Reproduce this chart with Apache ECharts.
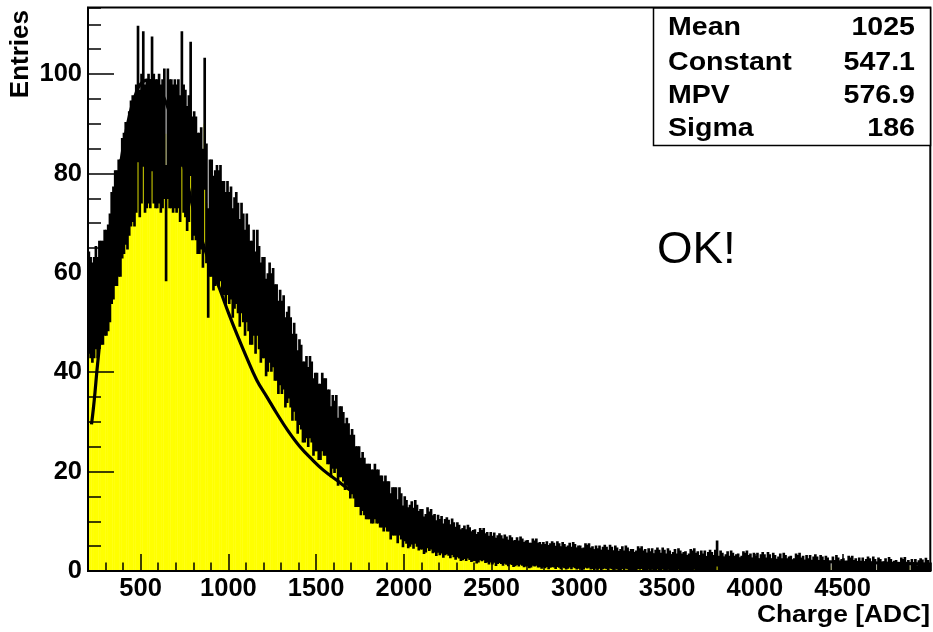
<!DOCTYPE html>
<html><head><meta charset="utf-8">
<script src="https://cdn.jsdelivr.net/npm/echarts@6/dist/echarts.min.js"></script>
<style>html,body{margin:0;padding:0;background:#fff}#c{width:933px;height:632px}</style>
</head><body><div id="c"></div>
<script>
// ---- data (bin contents, 10 ADC bins from 200) ----
const binLow = 200, binWidth = 10;
const counts = [
 54,53,52,53,55, 53,56,56,56,58, 58,59,61,65,66, 69,69,71,71,75,   // 200-399
 76,78,77,80,82, 83,82,85,96,84, 87,95,85,86,87, 86,94,87,86,86,   // 400-599
 87,85,86,88,70, 88,86,86,85,86, 85,86,83,95,85, 84,81,83,93,79,   // 600-799
 80,79,76,76,77, 73,90,74,62,71, 71,68,69,70,69, 70,67,67,65,67,   // 800-999
 65,66,62,64,65, 63,60,63,61,58, 61,59,56,56,58, 54,58,55,52,53,   // 1000-1199
 53,49,50,52,50, 51,48,48,45,47, 45,46,42,43,44, 42,39,41,39,36,   // 1200-1399
 38,37,34,34,35, 33,35,34,31,32, 32,30,30,32,31, 31,29,29,26,28,   // 1400-1599
 27,28,24,26,26, 25,23,24,23,21, 22,21,19,19,19, 17,18,17,16,16,   // 1600-1799
 16,15,15,16,15, 15,14,14,13,14, 13,13,11,12,12, 12,10,12,11,9,    // 1800-1999
 10.5,9.9,8.7,9.1,9.7, 8.6,9.9,9.1,8.1,8.4, 8.4,7.2,7.6,8.7,8.0, 8.4,7.4,7.6,6.6,7.5,   // 2000-2199
 6.8,7.3,6.1,6.8,7.1, 6.7,6.0,6.9,6.3,5.6, 6.3,5.9,5.2,5.4,5.8, 5.2,5.9,5.5,4.9,5.1,   // 2200-2399
 5.2,4.5,4.8,5.4,5.1, 5.4,4.6,4.8,4.2,4.8, 4.2,4.7,3.7,4.3,4.6, 4.3,3.8,4.4,4.1,3.6,   // 2400-2599
 4.3,4.0,3.4,3.6,4.0, 3.5,4.1,3.8,3.3,3.5, 3.6,3.0,3.2,3.8,3.5, 3.8,3.2,3.3,2.8,3.3,   // 2600-2799
 3.0,3.4,2.6,3.1,3.4, 3.2,2.7,3.4,3.1,2.6, 3.3,3.0,2.5,2.8,3.2, 2.6,3.3,3.0,2.5,2.8,   // 2800-2999
 2.8,2.3,2.5,3.1,2.9, 3.1,2.5,2.7,2.2,2.8, 2.4,2.8,2.0,2.6,2.9, 2.6,2.2,2.9,2.6,2.1,   // 3000-3199
 2.8,2.5,2.0,2.3,2.7, 2.1,2.8,2.5,2.0,2.3, 2.3,1.8,2.1,2.7,2.4, 2.7,2.1,2.3,1.8,2.4,   // 3200-3399
 2.0,2.4,1.6,2.2,2.5, 2.2,1.8,2.5,2.2,1.7, 2.4,2.1,1.6,1.9,2.3, 1.7,2.4,2.1,1.7,1.9,   // 3400-3599
 2.0,1.5,1.7,2.3,2.1, 2.4,1.8,2.0,1.5,2.1, 1.7,2.1,1.3,1.9,2.2, 1.9,1.5,2.2,3.5,1.4,   // 3600-3799
 2.1,1.8,1.3,1.6,2.0, 1.4,2.1,1.8,1.4,1.6, 1.7,1.2,1.4,2.0,1.8, 2.1,1.5,1.7,1.2,1.8,   // 3800-3999
 1.4,1.8,1.0,1.6,1.9, 1.6,1.2,1.9,1.6,1.1, 1.8,1.5,1.0,1.3,1.7, 1.1,1.8,1.5,1.1,1.3,   // 4000-4199
 1.4,0.9,1.1,1.7,1.5, 1.8,1.2,1.4,0.9,1.5, 1.1,1.5,0.7,1.3,1.6, 1.3,0.9,1.5,1.3,0.9,   // 4200-4399
 1.4,1.2,0.8,0,1.3, 0.9,1.5,1.2,0.8,1.0, 1.1,0.6,0.8,1.4,1.2, 1.4,0.9,1.1,0.6,1.2,     // 4400-4599
 0.8,1.2,0.5,1.0,1.3, 1.1,0.7,1.3,1.0,0, 1.2,1.0,0.55,0.75,1.1, 0.6,1.25,1.0,0.6,0.8,  // 4600-4799
 0.9,0.45,0.65,1.2,1.0, 1.25,0.7,0.9,0,1.0, 0.65,1.0,0.35,0.85,1.1, 0.95,0.55,1.15,0.9,0.5 // 4800-4999
];
const errScale = 1.4;   // error bars read as about 1.4*sqrt(content)
const fitX = [220,230,240,250,260,270,280,300,325,350,375,400,425,450,475,500,535,570,600,650,700,750,800,850,900,950,1000,1050,1100,1162,1220,1276,1340,1408,1475,1541,1620,1693,1850,2000,2250,2500,2750,3000,3500,4000,4500,5000];
const fitY = [29.5,32.5,36,40,43.5,47,50.5,56.9,65,72.6,79.3,85.1,89.9,93.6,96.3,98,98.8,98.5,97.5,93.8,88,80.8,72.8,66.5,61.3,56.8,52,47.5,43.3,38.4,35,31.7,28.2,25,22.5,20.3,18.2,16.3,13.3,11,8.3,6.5,5.2,4.3,3.1,2.3,1.8,1.4];
const xTickLabels = [500,1000,1500,2000,2500,3000,3500,4000,4500];
const yTickLabels = [0,20,40,60,80,100];
const statNames = ['Mean','Constant','MPV','Sigma'];
const statValues = ['1025','547.1','576.9','186'];
const xTitle = 'Charge [ADC]', yTitle = 'Entries', note = 'OK!';

// ---- build ----
const FONT = '"Liberation Sans", Arial, Helvetica, sans-serif';
const X0 = 200, X1 = 5000, Y0 = 0, Y1 = 113.4;
const bins = counts.map((c, i) => [binLow + i * binWidth, binLow + (i + 1) * binWidth, c]);
const fitData = fitX.map((x, i) => [x, fitY[i]]);

const chart = echarts.init(document.getElementById('c'), null, {renderer: 'canvas'});

function rectFor(api, x0, x1, ylo, yhi, pad) {
  const a = api.coord([x0, ylo]), b = api.coord([x1, yhi]);
  return {x: a[0] - pad, y: b[1], width: b[0] - a[0] + 2 * pad, height: a[1] - b[1]};
}

const statText = [];
statNames.forEach((n, i) => {
  const yc = [27.5, 62.5, 96, 128.5][i];
  statText.push({type: 'text', x: 668, y: yc, scaleX: 1.12, z: 102,
    style: {text: n, font: 'bold 25.5px ' + FONT, fill: '#000', textAlign: 'left', textVerticalAlign: 'middle'}});
  statText.push({type: 'text', x: 915, y: yc, scaleX: 1.12, z: 102,
    style: {text: statValues[i], font: 'bold 25.5px ' + FONT, fill: '#000', textAlign: 'right', textVerticalAlign: 'middle'}});
});

const option = {
  animation: false,
  backgroundColor: '#fff',
  grid: {left: 88, right: 2.7, top: 7.5, bottom: 61, show: true, borderColor: '#000', borderWidth: 2, backgroundColor: 'transparent', z: 5},
  xAxis: [
    {type: 'value', min: X0, max: X1, position: 'bottom', z: 10,
      axisLine: {show: true, onZero: false, lineStyle: {color: '#000', width: 2}},
      axisTick: {show: true, inside: true, length: 17, customValues: xTickLabels, lineStyle: {color: '#000', width: 1.5}},
      axisLabel: {show: true, customValues: xTickLabels, formatter: v => String(v), margin: 17.5, verticalAlign: 'middle', color: '#000', fontSize: 25.5, fontWeight: 'bold', fontFamily: FONT},
      splitLine: {show: false}},
    {type: 'value', min: X0, max: X1, interval: 100, position: 'bottom', z: 10,
      axisLine: {show: false, onZero: false},
      axisTick: {show: true, inside: true, length: 8.5, lineStyle: {color: '#000', width: 1.5}},
      axisLabel: {show: false}, splitLine: {show: false}}
  ],
  yAxis: [
    {type: 'value', min: Y0, max: Y1, position: 'left', z: 10,
      axisLine: {show: true, onZero: false, lineStyle: {color: '#000', width: 1.5}},
      axisTick: {show: true, inside: true, length: 26, customValues: yTickLabels, lineStyle: {color: '#000', width: 1.5}},
      axisLabel: {show: true, customValues: yTickLabels, formatter: v => String(v), margin: 6, color: '#000', fontSize: 25.5, fontWeight: 'bold', fontFamily: FONT},
      splitLine: {show: false}},
    {type: 'value', min: Y0, max: Y1, interval: 5, position: 'left', z: 10,
      axisLine: {show: false, onZero: false},
      axisTick: {show: true, inside: true, length: 13, lineStyle: {color: '#000', width: 1.5}},
      axisLabel: {show: false}, splitLine: {show: false}}
  ],
  series: [
    {type: 'custom', name: 'content', xAxisIndex: 0, yAxisIndex: 0, clip: true, z: 1,
      data: bins,
      renderItem(params, api) {
        const c = api.value(2);
        if (!(c > 0)) return null;
        return {type: 'rect', shape: rectFor(api, api.value(0), api.value(1), 0, c, 0.2), style: {fill: '#ffff00'}};
      }},
    {type: 'custom', name: 'errors', xAxisIndex: 0, yAxisIndex: 0, clip: true, z: 2,
      data: bins,
      renderItem(params, api) {
        const c = api.value(2);
        if (!(c > 0)) return null;
        const e = errScale * Math.sqrt(c);
        return {type: 'rect', shape: rectFor(api, api.value(0), api.value(1), Math.max(0, c - e), c + e, 0.45), style: {fill: '#000'}};
      }},
    {type: 'line', name: 'fit', xAxisIndex: 0, yAxisIndex: 0, data: fitData, smooth: 0.4, showSymbol: false, symbol: 'none',
      clip: true, z: 3, lineStyle: {color: '#000', width: 3.2}}
  ],
  graphic: [
    {type: 'rect', z: 100, shape: {x: 653.5, y: 8, width: 277, height: 137.5},
      style: {fill: '#fff', stroke: '#000', lineWidth: 1.5}},
    ...statText,
    {type: 'text', x: 657, y: 251, scaleX: 1.04, z: 100,
      style: {text: note, font: '44px ' + FONT, fill: '#000', textAlign: 'left', textVerticalAlign: 'middle'}},
    {type: 'text', x: 930, y: 615, scaleX: 1.1, z: 100,
      style: {text: xTitle, font: 'bold 24px ' + FONT, fill: '#000', textAlign: 'right', textVerticalAlign: 'middle'}},
    {type: 'text', x: 20.5, y: 10, rotation: Math.PI / 2, z: 100,
      style: {text: yTitle, font: 'bold 26px ' + FONT, fill: '#000', textAlign: 'right', textVerticalAlign: 'middle'}}
  ]
};
chart.setOption(option);
</script>
</body></html>
